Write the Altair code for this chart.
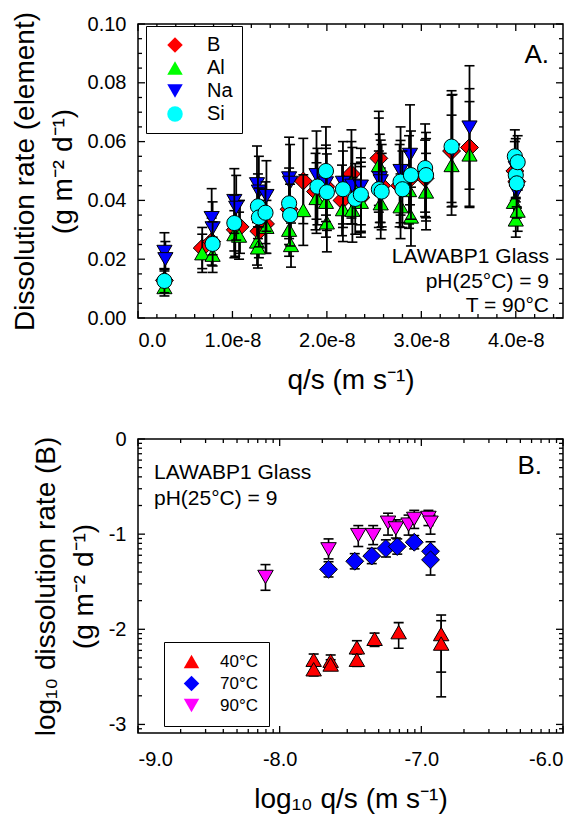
import math
import altair as alt
import pandas as pd

FONT = "Liberation Sans"

# ---------------- Panel A data: q/s in units of 1e-8 m s-1, rate in g m-2 d-1 ----------------
ELEMENTS = ["B", "Al", "Na", "Si"]
ELEM_COLORS = ["#ff0000", "#00ff00", "#0000ff", "#00ffff"]
ELEM_SHAPES = ["diamond", "triangle-up", "triangle-down", "circle"]

B_q = [0.28, 0.68, 0.78, 1.03, 1.08, 1.28, 1.35, 1.60, 1.75, 1.88, 1.99, 2.16, 2.26, 2.36, 2.55, 2.58, 2.77, 2.87, 3.04, 3.32, 3.51, 3.99, 4.01]
B_rate = [0.0128, 0.0238, 0.0260, 0.0300, 0.0310, 0.0295, 0.0320, 0.0370, 0.0466, 0.0430, 0.0447, 0.0400, 0.0490, 0.0410, 0.0543, 0.0450, 0.0450, 0.0470, 0.0475, 0.0568, 0.0580, 0.0500, 0.0464]
B_err = [0.0040, 0.0070, 0.0080, 0.0090, 0.0090, 0.0090, 0.0100, 0.0120, 0.0145, 0.0130, 0.0130, 0.0120, 0.0150, 0.0120, 0.0160, 0.0140, 0.0140, 0.0150, 0.0130, 0.0190, 0.0200, 0.0100, 0.0090]

Al_q = [0.28, 0.68, 0.79, 1.02, 1.07, 1.26, 1.27, 1.36, 1.60, 1.62, 1.75, 1.89, 1.99, 2.00, 2.17, 2.26, 2.27, 2.36, 2.55, 2.57, 2.78, 2.87, 2.89, 3.05, 3.32, 3.51, 3.98, 4.00, 4.02]
Al_rate = [0.0105, 0.0220, 0.0215, 0.0285, 0.0280, 0.0260, 0.0240, 0.0310, 0.0300, 0.0248, 0.0367, 0.0408, 0.0395, 0.0325, 0.0370, 0.0460, 0.0368, 0.0395, 0.0520, 0.0390, 0.0380, 0.0435, 0.0345, 0.0430, 0.0520, 0.0556, 0.0395, 0.0335, 0.0365]
Al_err = [0.0030, 0.0065, 0.0060, 0.0080, 0.0080, 0.0080, 0.0070, 0.0090, 0.0090, 0.0075, 0.0120, 0.0120, 0.0120, 0.0100, 0.0110, 0.0140, 0.0110, 0.0120, 0.0160, 0.0120, 0.0110, 0.0130, 0.0100, 0.0130, 0.0170, 0.0180, 0.0080, 0.0060, 0.0070]

Na_q = [0.28, 0.29, 0.78, 0.79, 1.02, 1.04, 1.26, 1.28, 1.36, 1.60, 1.61, 1.89, 1.99, 2.17, 2.27, 2.36, 2.56, 2.57, 2.78, 2.88, 3.05, 3.33, 3.51, 4.00, 4.01]
Na_rate = [0.0225, 0.0200, 0.0340, 0.0305, 0.0398, 0.0375, 0.0455, 0.0430, 0.0415, 0.0475, 0.0460, 0.0486, 0.0458, 0.0460, 0.0450, 0.0447, 0.0475, 0.0465, 0.0500, 0.0555, 0.0470, 0.0570, 0.0648, 0.0510, 0.0430]
Na_err = [0.0065, 0.0060, 0.0100, 0.0090, 0.0110, 0.0110, 0.0130, 0.0120, 0.0120, 0.0140, 0.0130, 0.0150, 0.0130, 0.0140, 0.0130, 0.0130, 0.0150, 0.0140, 0.0150, 0.0170, 0.0140, 0.0190, 0.0210, 0.0100, 0.0090]

Si_q = [0.28, 0.79, 1.02, 1.27, 1.28, 1.35, 1.60, 1.61, 1.90, 1.99, 2.00, 2.17, 2.30, 2.36, 2.55, 2.58, 2.78, 2.80, 2.89, 3.04, 3.05, 3.32, 3.99, 4.00, 4.01, 4.02]
Si_rate = [0.0126, 0.0252, 0.0323, 0.0380, 0.0342, 0.0358, 0.0390, 0.0350, 0.0447, 0.0500, 0.0428, 0.0438, 0.0405, 0.0420, 0.0438, 0.0430, 0.0464, 0.0438, 0.0486, 0.0510, 0.0486, 0.0583, 0.0550, 0.0486, 0.0458, 0.0530]
Si_err = [0.0040, 0.0075, 0.0095, 0.0110, 0.0100, 0.0105, 0.0120, 0.0105, 0.0130, 0.0150, 0.0130, 0.0130, 0.0120, 0.0125, 0.0130, 0.0130, 0.0140, 0.0130, 0.0150, 0.0150, 0.0145, 0.0190, 0.0090, 0.0080, 0.0080, 0.0090]

# ---------------- Panel B data: log10 q/s vs log10 B dissolution rate ----------------
TEMPS = ["40°C", "70°C", "90°C"]
TEMP_COLORS = ["#ff0000", "#0000ff", "#ff00ff"]
TEMP_SHAPES = ["triangle-up", "diamond", "triangle-down"]

T40_x = [-7.76, -7.76, -7.64, -7.64, -7.455, -7.455, -7.33, -7.16, -6.86, -6.86]
T40_y = [-2.32, -2.42, -2.33, -2.37, -2.19, -2.32, -2.10, -2.03, -2.05, -2.15]
T40_up = [0.06, 0.06, 0.06, 0.05, 0.07, 0.07, 0.06, 0.10, 0.20, 0.24]
T40_dn = [0.06, 0.07, 0.06, 0.06, 0.07, 0.07, 0.08, 0.17, 0.40, 0.56]

T70_x = [-7.655, -7.47, -7.35, -7.25, -7.17, -7.05, -6.935, -6.935]
T70_y = [-1.37, -1.285, -1.23, -1.15, -1.13, -1.085, -1.18, -1.27]
T70_up = [0.08, 0.08, 0.08, 0.09, 0.08, 0.07, 0.10, 0.13]
T70_dn = [0.08, 0.08, 0.08, 0.09, 0.08, 0.07, 0.10, 0.16]

T90_x = [-8.10, -7.655, -7.445, -7.34, -7.235, -7.18, -7.09, -7.05, -6.95, -6.935]
T90_y = [-1.45, -1.16, -1.01, -1.01, -0.88, -0.94, -0.90, -0.84, -0.83, -0.88]
T90_up = [0.13, 0.11, 0.10, 0.10, 0.10, 0.09, 0.10, 0.09, 0.08, 0.08]
T90_dn = [0.14, 0.10, 0.12, 0.10, 0.13, 0.10, 0.11, 0.10, 0.08, 0.12]

# ---------------- axis tick values (frame ticks point inward) ----------------
A_X_DOM = [0, 4.5e-8]
A_Y_DOM = [0, 0.10]
B_X_DOM = [-9, -6]
B_Y_DOM = [-3.09, 0]
A_X_MAJOR = [k * 1e-8 for k in range(5)]
A_X_MINOR = [k * 0.2e-8 for k in range(1, 23) if k % 5 != 0]
A_Y_MAJOR = [k * 0.02 for k in range(6)]
A_Y_MINOR = [k * 0.005 for k in range(1, 20) if k % 4 != 0]
B_X_MAJOR = [-9, -8, -7, -6]
B_X_MINOR = [d + math.log10(k) for d in (-9, -8, -7) for k in range(2, 10)]
B_Y_MAJOR = [-3, -2, -1, 0]
B_Y_MINOR = [d + math.log10(k) for d in (-4, -3, -2, -1) for k in range(2, 10)
             if d + math.log10(k) > -3.09]

# ---------------- tables ----------------
def frame_a(name, qs, rates, errs):
    return pd.DataFrame({
        "element": name,
        "q": [v * 1e-8 for v in qs],
        "rate": rates,
        "lo": [r - e for r, e in zip(rates, errs)],
        "hi": [r + e for r, e in zip(rates, errs)],
    })

def frame_b(name, xs, ys, ups, dns):
    return pd.DataFrame({
        "temp": name,
        "lq": xs,
        "lr": ys,
        "lo": [y - d for y, d in zip(ys, dns)],
        "hi": [y + u for y, u in zip(ys, ups)],
    })

dfA = {
    "B": frame_a("B", B_q, B_rate, B_err),
    "Al": frame_a("Al", Al_q, Al_rate, Al_err),
    "Na": frame_a("Na", Na_q, Na_rate, Na_err),
    "Si": frame_a("Si", Si_q, Si_rate, Si_err),
}
dfB = {
    "40°C": frame_b("40°C", T40_x, T40_y, T40_up, T40_dn),
    "70°C": frame_b("70°C", T70_x, T70_y, T70_up, T70_dn),
    "90°C": frame_b("90°C", T90_x, T90_y, T90_up, T90_dn),
}
allA = pd.concat(dfA.values(), ignore_index=True)
allB = pd.concat(dfB.values(), ignore_index=True)
one = pd.DataFrame({"k": [0]})

W, H = 425, 294
LBL, TTL = 20, 28
MAJ, MIN = 7, 4


def frame_ticks(xsc, ysc, xdom, ydom, xmaj, xmin, ymaj, ymin):
    """Inward frame ticks, drawn as rules whose lengths are converted to data units."""
    out = []
    dy = (ydom[1] - ydom[0]) / H
    dx = (xdom[1] - xdom[0]) / W
    for vals, ln in [(xmaj, MAJ), (xmin, MIN)]:
        for base, sgn in [(ydom[0], 1), (ydom[1], -1)]:
            t = pd.DataFrame({"v": vals, "a": base, "b": base + sgn * ln * dy})
            out.append(alt.Chart(t).mark_rule(color="black", strokeWidth=1.3).encode(
                x=alt.X("v:Q", scale=xsc), y=alt.Y("a:Q", scale=ysc), y2="b:Q"))
    for vals, ln in [(ymaj, MAJ), (ymin, MIN)]:
        for base, sgn in [(xdom[0], 1), (xdom[1], -1)]:
            t = pd.DataFrame({"v": vals, "a": base, "b": base + sgn * ln * dx})
            out.append(alt.Chart(t).mark_rule(color="black", strokeWidth=1.3).encode(
                y=alt.Y("v:Q", scale=ysc), x=alt.X("a:Q", scale=xsc), x2="b:Q"))
    return out


def main_axis(orient, vals, title, tpad, lpad, **kw):
    return alt.Axis(orient=orient, values=vals, ticks=False, domain=False, grid=False,
                    labelFont=FONT, labelFontSize=LBL, labelColor="black",
                    titleFont=FONT, titleFontSize=TTL, titleColor="black",
                    titleFontWeight="normal", titleLineHeight=38,
                    labelPadding=lpad, titlePadding=tpad, title=title, **kw)


def text_layer(txt, x, y, size, align="left"):
    return alt.Chart(one).mark_text(text=txt, font=FONT, fontSize=size, align=align,
                                    baseline="middle", color="black").encode(
        x=alt.value(x), y=alt.value(y))


# ---------------- Panel A ----------------
xscA = alt.Scale(domain=A_X_DOM, nice=False, zero=False)
yscA = alt.Scale(domain=A_Y_DOM, nice=False, zero=False)
fillA = alt.Scale(domain=ELEMENTS, range=ELEM_COLORS)
shapeA = alt.Scale(domain=ELEMENTS, range=ELEM_SHAPES)
legA = alt.Legend(title=None, orient="none", legendX=8, legendY=2, strokeColor="black",
                  fillColor="white", padding=9, symbolOffset=10, labelOffset=22,
                  symbolSize=240, symbolStrokeColor="black", symbolStrokeWidth=1,
                  labelFont=FONT, labelFontSize=20, labelColor="black", rowPadding=3)

xmainA = main_axis("bottom", A_X_MAJOR, "q/s (m s⁻¹)", 16, 12,
                   labelExpr="datum.value == 0 ? '0.0' : format(datum.value * 1e8, '.1f') + 'e-8'")
ymainA = main_axis("left", A_Y_MAJOR, ["Dissolution rate (element)", "(g m⁻² d⁻¹)"], 10, 12,
                   format=".2f")

layersA = [alt.Chart(allA).mark_point(opacity=0, size=1).encode(
    x=alt.X("q:Q", scale=xscA, axis=xmainA), y=alt.Y("rate:Q", scale=yscA, axis=ymainA))]
layersA += frame_ticks(xscA, yscA, A_X_DOM, A_Y_DOM, A_X_MAJOR, A_X_MINOR, A_Y_MAJOR, A_Y_MINOR)

for el in ELEMENTS:
    d = dfA[el]
    xs = alt.X("q:Q", scale=xscA)
    layersA.append(alt.Chart(d).mark_rule(color="black", strokeWidth=1.8).encode(
        x=xs, y=alt.Y("lo:Q", scale=yscA), y2="hi:Q"))
    for f in ["lo", "hi"]:
        layersA.append(alt.Chart(d).mark_tick(orient="horizontal", color="black", size=10,
                                              thickness=1.6, opacity=1).encode(
            x=xs, y=alt.Y(f + ":Q", scale=yscA)))
    layersA.append(alt.Chart(d).mark_point(filled=True, opacity=1, stroke="black", strokeWidth=1,
                                           size=320 if el == "B" else 230).encode(
        x=xs, y=alt.Y("rate:Q", scale=yscA),
        fill=alt.Fill("element:N", scale=fillA, legend=legA),
        shape=alt.Shape("element:N", scale=shapeA, legend=legA)))

layersA += [
    text_layer("A.", 411, 31, 26, "right"),
    text_layer("LAWABP1 Glass", 411, 233, 21, "right"),
    text_layer("pH(25°C) = 9", 411, 258, 21, "right"),
    text_layer("T = 90°C", 411, 282, 21, "right"),
]
panelA = alt.layer(*layersA).properties(width=W, height=H)

# ---------------- Panel B ----------------
xscB = alt.Scale(domain=B_X_DOM, nice=False, zero=False)
yscB = alt.Scale(domain=B_Y_DOM, nice=False, zero=False)
fillB = alt.Scale(domain=TEMPS, range=TEMP_COLORS)
shapeB = alt.Scale(domain=TEMPS, range=TEMP_SHAPES)
legB = alt.Legend(title=None, orient="none", legendX=26, legendY=203, strokeColor="black",
                  fillColor="white", padding=11, symbolOffset=8, labelOffset=20,
                  symbolSize=240, symbolStrokeColor="black", symbolStrokeWidth=1,
                  labelFont=FONT, labelFontSize=17, labelColor="black", rowPadding=2)

xmainB = main_axis("bottom", B_X_MAJOR, "log₁₀ q/s (m s⁻¹)", 16, 16,
                   labelExpr="(datum.value < 0 ? '-' : '') + format(abs(datum.value), '.1f')")
ymainB = main_axis("left", B_Y_MAJOR, ["log₁₀ dissolution rate (B)", "(g m⁻² d⁻¹)"], 10, 12,
                   labelExpr="(datum.value < 0 ? '-' : '') + format(abs(datum.value), 'd')")

layersB = [alt.Chart(allB).mark_point(opacity=0, size=1).encode(
    x=alt.X("lq:Q", scale=xscB, axis=xmainB), y=alt.Y("lr:Q", scale=yscB, axis=ymainB))]
layersB += frame_ticks(xscB, yscB, B_X_DOM, B_Y_DOM, B_X_MAJOR, B_X_MINOR, B_Y_MAJOR, B_Y_MINOR)

for t in TEMPS:
    d = dfB[t]
    xs = alt.X("lq:Q", scale=xscB)
    layersB.append(alt.Chart(d).mark_rule(color="black", strokeWidth=1.6).encode(
        x=xs, y=alt.Y("lo:Q", scale=yscB), y2="hi:Q"))
    for f in ["lo", "hi"]:
        layersB.append(alt.Chart(d).mark_tick(orient="horizontal", color="black", size=10,
                                              thickness=1.6, opacity=1).encode(
            x=xs, y=alt.Y(f + ":Q", scale=yscB)))
    layersB.append(alt.Chart(d).mark_point(filled=True, opacity=1, stroke="black", strokeWidth=1,
                                           size=320 if t == "70°C" else 240).encode(
        x=xs, y=alt.Y("lr:Q", scale=yscB),
        fill=alt.Fill("temp:N", scale=fillB, legend=legB),
        shape=alt.Shape("temp:N", scale=shapeB, legend=legB)))

layersB += [
    text_layer("B.", 404, 27, 26, "right"),
    text_layer("LAWABP1 Glass", 16, 34, 21, "left"),
    text_layer("pH(25°C) = 9", 16, 60, 21, "left"),
]
panelB = alt.layer(*layersB).properties(width=W, height=H)

chart = alt.vconcat(panelA, panelB, spacing=121, bounds="flush").resolve_scale(
    fill="independent", shape="independent"
).properties(
    padding={"left": 2, "top": 2, "right": 0, "bottom": 0},
    background="white",
).configure_view(
    stroke="black", strokeWidth=1.5
).configure_axis(
    grid=False
)

chart.save("out.html", embed_options={"renderer": "svg", "actions": False})
